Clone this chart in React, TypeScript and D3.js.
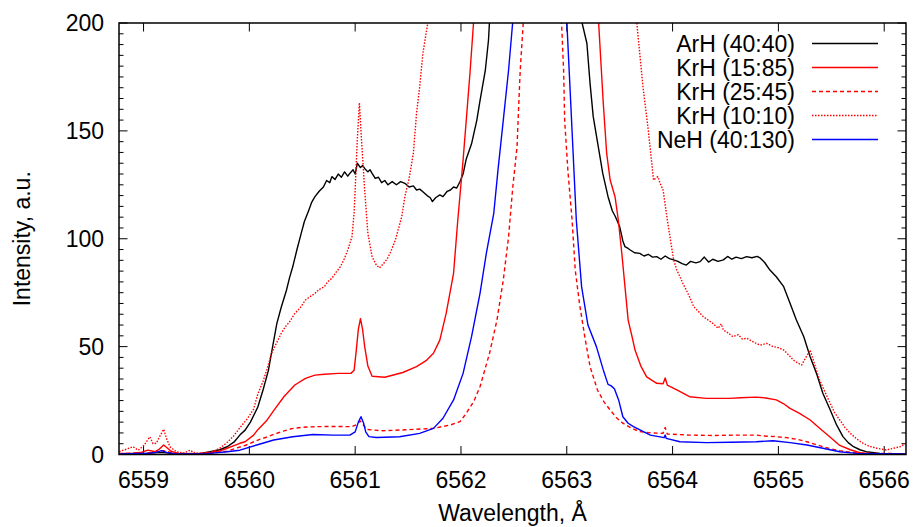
import React from "react";
import * as d3 from "d3";

const xTicks = [6559, 6560, 6561, 6562, 6563, 6564, 6565, 6566];
const yTicks = [0, 50, 100, 150, 200];
const yMinorStep = 5;

const seriesNames = ["ArH (40:40)", "KrH (15:85)", "KrH (25:45)", "KrH (10:10)", "NeH (40:130)"];

const arH: [number, number][] = [
  [6558.77,0.3],[6559.0,0.4],[6559.17,1.0],[6559.3,0.3],[6559.53,0.4],[6559.63,1.3],[6559.72,2.2],[6559.79,3.6],[6559.86,6],[6559.91,9],[6559.96,11.3],[6560.01,15],[6560.08,22],[6560.13,30],[6560.18,39],[6560.22,50],[6560.26,60.8],[6560.30,68],[6560.35,76],[6560.38,82],[6560.41,87],[6560.45,95],[6560.49,102.5],[6560.52,108],[6560.56,113],[6560.59,117],[6560.62,119.5],[6560.66,122],[6560.70,124],[6560.73,127],[6560.76,126],[6560.78,128.8],[6560.81,127.5],[6560.84,130],[6560.87,128.5],[6560.90,131],[6560.93,129],[6560.95,130.3],[6560.98,132],[6561.00,130],[6561.02,135],[6561.05,133],[6561.07,134],[6561.09,132.6],[6561.12,131],[6561.14,132],[6561.16,130.3],[6561.19,128],[6561.22,128.5],[6561.25,126],[6561.28,127],[6561.31,125],[6561.35,126.5],[6561.39,125],[6561.43,126.5],[6561.47,125.7],[6561.51,124],[6561.55,124.5],[6561.58,122.6],[6561.61,123],[6561.64,121.8],[6561.68,120],[6561.71,119],[6561.73,117.2],[6561.76,119],[6561.80,120.3],[6561.83,119.5],[6561.87,122],[6561.90,122.6],[6561.93,124],[6561.96,123.5],[6561.99,126.4],[6562.02,130],[6562.05,137],[6562.10,144],[6562.15,155],[6562.18,164],[6562.23,178],[6562.26,192],[6562.27,201],[6562.4,280],[6562.7,400],[6562.95,400],[6563.10,240],[6563.14,201],[6563.19,190.6],[6563.22,172],[6563.25,156.6],[6563.30,142],[6563.34,130.3],[6563.39,119.5],[6563.43,113],[6563.46,110.2],[6563.50,105.6],[6563.53,99],[6563.55,96.3],[6563.58,95.5],[6563.60,94.8],[6563.64,93.5],[6563.69,93.2],[6563.73,92],[6563.77,92.8],[6563.81,91.5],[6563.85,91.7],[6563.89,90.5],[6563.93,92],[6563.97,90.8],[6564.01,90.2],[6564.05,89.5],[6564.09,88.5],[6564.13,87.8],[6564.17,89.5],[6564.22,88.8],[6564.26,89.4],[6564.30,91.5],[6564.34,89.2],[6564.38,90.5],[6564.43,89.5],[6564.48,90.2],[6564.52,91.8],[6564.56,90.5],[6564.60,91.5],[6564.65,90.8],[6564.70,91.7],[6564.75,91.2],[6564.80,91.8],[6564.83,91],[6564.87,89],[6564.92,85.5],[6564.98,82.4],[6565.05,77.8],[6565.11,70.1],[6565.17,62.3],[6565.24,54.6],[6565.30,45.3],[6565.36,37.6],[6565.42,28.4],[6565.49,20.6],[6565.55,13.7],[6565.61,8.3],[6565.66,5.5],[6565.71,3.6],[6565.77,2.2],[6565.83,1.3],[6565.96,0.5],[6566.2,0.3]
];

const krH1585: [number, number][] = [
  [6558.77,0.4],[6558.90,0.6],[6558.97,0.9],[6559.04,2],[6559.08,1.6],[6559.11,1.3],[6559.15,2.5],[6559.19,4.4],[6559.23,2.8],[6559.26,1.5],[6559.33,0.4],[6559.5,0.3],[6559.63,0.8],[6559.72,1.6],[6559.79,2.9],[6559.86,4.2],[6559.91,5.2],[6559.96,5.9],[6560.04,9],[6560.08,11.5],[6560.16,15.5],[6560.24,21],[6560.33,27],[6560.43,32.2],[6560.53,35.3],[6560.62,36.8],[6560.71,37.2],[6560.84,37.6],[6560.96,37.6],[6560.99,39],[6561.01,48],[6561.03,58],[6561.05,63],[6561.07,58],[6561.09,50],[6561.12,41],[6561.16,36.3],[6561.28,35.8],[6561.45,38],[6561.58,40.7],[6561.67,43.5],[6561.74,46.9],[6561.80,53],[6561.86,65.4],[6561.93,84],[6561.97,108.7],[6562.02,136.5],[6562.05,155],[6562.085,176.7],[6562.12,201],[6562.3,320],[6562.7,500],[6563.0,500],[6563.22,280],[6563.30,201],[6563.345,162.8],[6563.377,139.6],[6563.41,127.2],[6563.456,119.5],[6563.487,108.7],[6563.52,93.3],[6563.55,77.8],[6563.58,62.3],[6563.62,54],[6563.645,48.4],[6563.70,41],[6563.755,36],[6563.85,33],[6563.91,32.8],[6563.93,35.5],[6563.95,32.2],[6564.04,29.9],[6564.16,26.8],[6564.32,26],[6564.54,26],[6564.64,26.3],[6564.79,26.6],[6564.88,26.2],[6564.98,25.3],[6565.05,23.5],[6565.11,21.4],[6565.20,19.1],[6565.30,16],[6565.39,12.2],[6565.49,8],[6565.58,4.2],[6565.68,2.2],[6565.77,0.8],[6565.90,0.2],[6566.2,0.2]
];

const krH2545: [number, number][] = [
  [6558.77,0.5],[6559.0,0.6],[6559.1,1.0],[6559.19,1.8],[6559.28,0.6],[6559.6,0.4],[6559.79,1.5],[6559.88,3],[6559.97,4.4],[6560.08,6.7],[6560.16,8],[6560.24,9.5],[6560.32,10.8],[6560.40,12],[6560.50,12.6],[6560.62,12.9],[6560.80,13],[6560.97,12.9],[6561.01,13.8],[6561.05,15.5],[6561.08,13.5],[6561.11,11.6],[6561.26,11],[6561.50,11.5],[6561.74,12.1],[6561.90,13.7],[6561.99,15.2],[6562.05,19.1],[6562.12,24.5],[6562.18,31.4],[6562.27,46.9],[6562.34,62.3],[6562.40,80.9],[6562.45,101],[6562.49,124.1],[6562.53,142.7],[6562.54,155],[6562.56,178.2],[6562.59,201],[6562.7,320],[6562.8,360],[6562.9,320],[6562.95,201],[6562.97,178],[6562.98,155],[6563.01,131.9],[6563.05,108.7],[6563.08,85.5],[6563.12,70],[6563.17,54.6],[6563.22,40.7],[6563.29,29.9],[6563.35,24.5],[6563.41,20.6],[6563.47,17],[6563.53,14.5],[6563.61,12.2],[6563.69,10.6],[6563.80,10],[6563.91,9.8],[6563.93,12.5],[6563.95,9.5],[6564.16,9],[6564.38,8.8],[6564.60,9],[6564.79,9],[6564.86,8.6],[6564.97,8.3],[6565.08,7.8],[6565.18,7],[6565.27,5.9],[6565.35,4.7],[6565.42,3.6],[6565.50,2.6],[6565.58,1.8],[6565.70,0.9],[6565.80,0.5],[6566.2,0.4]
];

const krH1010: [number, number][] = [
  [6558.77,1.3],[6558.84,2.5],[6558.90,3.6],[6558.95,2],[6559.00,4],[6559.06,8.2],[6559.09,5],[6559.12,5.2],[6559.16,9],[6559.19,11.7],[6559.22,7],[6559.25,3.6],[6559.31,1.3],[6559.38,0.6],[6559.44,2],[6559.49,0.5],[6559.58,0.8],[6559.66,1.5],[6559.73,3.2],[6559.79,5.6],[6559.85,8.5],[6559.92,13],[6559.98,16.5],[6560.04,21],[6560.08,28],[6560.13,34],[6560.17,40],[6560.21,46.9],[6560.24,50],[6560.27,53],[6560.30,56],[6560.34,59.2],[6560.38,61.5],[6560.43,65.4],[6560.48,68],[6560.53,71.6],[6560.57,73],[6560.62,74.7],[6560.66,76.5],[6560.71,77.8],[6560.74,80],[6560.78,81.7],[6560.82,84.5],[6560.86,87],[6560.90,91],[6560.93,94.8],[6560.97,101],[6560.99,112],[6561.00,122.6],[6561.02,145.8],[6561.04,163],[6561.06,145.8],[6561.09,122.6],[6561.12,102.5],[6561.16,91.7],[6561.20,87.8],[6561.23,86.5],[6561.27,88.6],[6561.30,90.5],[6561.33,93.2],[6561.38,99.4],[6561.44,110.2],[6561.47,119.5],[6561.51,128],[6561.55,139.6],[6561.58,158.1],[6561.61,170.5],[6561.64,186],[6561.69,201],[6561.8,280],[6562.2,500],[6562.8,700],[6563.3,500],[6563.6,260],[6563.66,201],[6563.72,170.5],[6563.77,150.4],[6563.82,127.2],[6563.86,128.8],[6563.88,126],[6563.91,122.6],[6563.96,105.6],[6564.01,90.2],[6564.04,85.5],[6564.07,82.4],[6564.10,79],[6564.13,76.2],[6564.17,72],[6564.20,68.5],[6564.25,66],[6564.29,63.9],[6564.33,62.5],[6564.38,60.8],[6564.43,58.5],[6564.46,60.5],[6564.48,57.7],[6564.52,56.5],[6564.57,54.6],[6564.62,55.5],[6564.66,53.5],[6564.70,53.9],[6564.75,52.5],[6564.79,51.5],[6564.83,50.7],[6564.89,51.5],[6564.95,50],[6565.00,49.5],[6565.05,48.4],[6565.10,46],[6565.14,43.8],[6565.18,42.5],[6565.22,41.5],[6565.26,45],[6565.30,48.4],[6565.33,43.8],[6565.36,39],[6565.39,34.5],[6565.44,29],[6565.49,23.7],[6565.53,19.5],[6565.58,16],[6565.63,12.5],[6565.68,9.8],[6565.74,7.2],[6565.80,5.2],[6565.86,3.8],[6565.93,2.9],[6566.02,2.1],[6566.08,2.8],[6566.15,3.6],[6566.20,5]
];

const neH: [number, number][] = [
  [6558.77,0.3],[6559.05,0.6],[6559.12,1.0],[6559.17,1.8],[6559.22,1.0],[6559.3,0.3],[6559.6,0.4],[6559.79,1.3],[6559.91,2],[6560.07,4.4],[6560.23,6.7],[6560.41,8.2],[6560.60,9.3],[6560.79,9],[6560.95,9],[6561.00,10.5],[6561.03,15],[6561.055,17.5],[6561.08,14.5],[6561.10,10.5],[6561.13,8.3],[6561.20,7.9],[6561.42,8.2],[6561.61,9.8],[6561.74,12.1],[6561.83,16.8],[6561.93,25.3],[6562.02,37.6],[6562.10,54.6],[6562.18,74.7],[6562.24,93.3],[6562.31,111.8],[6562.35,131.9],[6562.40,155],[6562.45,178.2],[6562.49,201],[6562.6,330],[6562.75,400],[6562.9,330],[6563.00,201],[6563.03,170.5],[6563.06,139.6],[6563.09,108.7],[6563.14,77.8],[6563.20,60],[6563.28,50],[6563.345,39.2],[6563.39,32.5],[6563.42,31.8],[6563.45,30.5],[6563.49,25.3],[6563.53,17.5],[6563.58,14.5],[6563.63,12.9],[6563.79,9],[6563.92,7.8],[6563.93,9],[6563.94,7.5],[6564.07,5.9],[6564.32,5.5],[6564.55,5.7],[6564.79,5.9],[6564.95,6.4],[6565.11,5.5],[6565.27,4.4],[6565.42,2.9],[6565.58,1.3],[6565.74,0.5],[6566.2,0.2]
];

const seriesData = [arH, krH1585, krH2545, krH1010, neH];
const seriesColors = ["#000000", "#ff0000", "#ff0000", "#ff0000", "#0000ff"];
const seriesDash = ["none", "none", "4,3", "1.5,1.5", "none"];

const W = 915, H = 527;
const L = 119, R = 906, T = 23, B = 454.5;
const FONT = "'Liberation Sans', Arial, Helvetica, sans-serif";
const FS = 23;

export default function App() {
  const x = d3.scaleLinear().domain([6558.768, 6566.206]).range([L, R]);
  const y = d3.scaleLinear().domain([0, 200]).range([B, T]);
  const line = d3.line<[number, number]>().x(d => x(d[0])).y(d => y(d[1]));
  const minor = d3.range(0, 200 + 0.001, yMinorStep).filter(v => v % 50 !== 0);
  const legendY = [43.5, 67.5, 91.5, 115.5, 139.5];

  return (
    <svg width={W} height={H} style={{ position: "absolute", left: 0, top: 0, background: "#fff" }} fontFamily={FONT}>
      <rect x={0} y={0} width={W} height={H} fill="#fff" />
      <defs>
        <clipPath id="plotclip">
          <rect x={L} y={T} width={R - L} height={B - T} />
        </clipPath>
      </defs>
      {/* ticks */}
      <g stroke="#000" strokeWidth={1}>
        {yTicks.map(v => (
          <g key={"yt" + v}>
            <line x1={L} x2={L + 8.5} y1={y(v)} y2={y(v)} />
            <line x1={R} x2={R - 8.5} y1={y(v)} y2={y(v)} />
          </g>
        ))}
        {minor.map(v => (
          <g key={"ym" + v}>
            <line x1={L} x2={L + 4.5} y1={y(v)} y2={y(v)} />
            <line x1={R} x2={R - 4.5} y1={y(v)} y2={y(v)} />
          </g>
        ))}
        {xTicks.map(v => (
          <g key={"xt" + v}>
            <line x1={x(v)} x2={x(v)} y1={B} y2={B - 8.5} />
            <line x1={x(v)} x2={x(v)} y1={T} y2={T + 8.5} />
          </g>
        ))}
      </g>
      {/* data */}
      <g clipPath="url(#plotclip)" fill="none">
        {seriesData.map((d, i) => (
          <path key={"s" + i} d={line(d) || ""} stroke={seriesColors[i]} strokeWidth={1.4}
            strokeDasharray={seriesDash[i] === "none" ? undefined : seriesDash[i]} strokeLinejoin="round" />
        ))}
      </g>
      {/* frame */}
      <rect x={L} y={T} width={R - L} height={B - T} fill="none" stroke="#000" strokeWidth={1.5} />
      {/* tick labels */}
      <g fontSize={FS} fill="#000">
        {yTicks.map(v => (
          <text key={"yl" + v} x={104} y={y(v) + 8.3} textAnchor="end">{v}</text>
        ))}
        {xTicks.map(v => (
          <text key={"xl" + v} x={x(v)} y={487.5} textAnchor="middle">{v}</text>
        ))}
      </g>
      {/* axis titles */}
      <text x={(L + R) / 2} y={521} textAnchor="middle" fontSize={FS} fill="#000">Wavelength, Å</text>
      <text transform={`translate(30,${(T + B) / 2}) rotate(-90)`} textAnchor="middle" fontSize={FS} fill="#000">Intensity, a.u.</text>
      {/* legend */}
      <g>
        {seriesNames.map((n, i) => (
          <g key={"lg" + i}>
            <text x={795} y={legendY[i] + 8} textAnchor="end" fontSize={FS} fill="#000">{n}</text>
            <line x1={812} x2={878} y1={legendY[i]} y2={legendY[i]} stroke={seriesColors[i]} strokeWidth={1.4}
              strokeDasharray={seriesDash[i] === "none" ? undefined : seriesDash[i]} />
          </g>
        ))}
      </g>
    </svg>
  );
}
